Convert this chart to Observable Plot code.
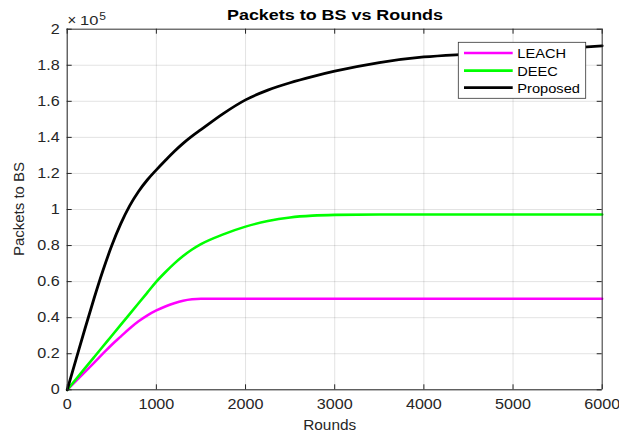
<!DOCTYPE html>
<html><head><meta charset="utf-8">
<script src="https://cdn.jsdelivr.net/npm/d3@7"></script>
<script src="https://cdn.jsdelivr.net/npm/@observablehq/plot@0.6"></script>
<style>body{margin:0;background:#fff} svg{display:block}</style>
</head><body><div id="chart"></div>
<script>
// ---- data (packets to BS, in units of 10^5) ----
const rounds   = [0,100,200,300,400,500,600,700,800,900,1000,1100,1200,1300,1400,1500,1750,2000,2250,2500,2750,3000,3500,4000,4500,5000,5500,6000];
const leach    = [0,0.05,0.10,0.15,0.20,0.25,0.295,0.34,0.38,0.413,0.44,0.462,0.48,0.494,0.502,0.505,0.505,0.505,0.505,0.505,0.505,0.505,0.505,0.505,0.505,0.505,0.505,0.505];
const deec     = [0,0.06,0.12,0.18,0.24,0.30,0.36,0.42,0.48,0.54,0.60,0.652,0.70,0.742,0.778,0.808,0.862,0.905,0.936,0.956,0.966,0.970,0.972,0.972,0.972,0.972,0.972,0.972];
const proposed = [0,0.17,0.34,0.505,0.66,0.80,0.92,1.02,1.10,1.165,1.22,1.272,1.322,1.367,1.407,1.443,1.532,1.608,1.662,1.703,1.737,1.767,1.815,1.846,1.862,1.876,1.891,1.908];
const seriesNames  = ["LEACH","DEEC","Proposed"];
const seriesColors = ["#ff00ff","#00ff00","#000000"];
const xTicks = [0,1000,2000,3000,4000,5000,6000];
const xTickLabels = ["0","1000","2000","3000","4000","5000","6000"];
const yTicks = [0,0.2,0.4,0.6,0.8,1,1.2,1.4,1.6,1.8,2];
const yTickLabels = ["0","0.2","0.4","0.6","0.8","1","1.2","1.4","1.6","1.8","2"];
const titleText = "Packets to BS vs Rounds";
const xLabel = "Rounds";
const yLabel = "Packets to BS";
const expTimes = "\u00d7", expBase = "10", expPow = "5";

const seriesArrays = [leach, deec, proposed];
const data = [];
seriesArrays.forEach((arr,k)=>rounds.forEach((r,i)=>data.push({round:r, value:arr[i], series:seriesNames[k]})));

const W=619, H=432, mL=66.7, mR=17.3, mT=28.7, mB=42.7;
const font = "'Liberation Sans', Arial, Helvetica, sans-serif";
const axisColor = "#262626";
const tickX = 5/(W-mL-mR)*6000, tickY = 5/(H-mT-mB)*2;
const widths = [2.5, 2.6, 2.8];

const svg = Plot.plot({
  width:W, height:H, marginLeft:mL, marginRight:mR, marginTop:mT, marginBottom:mB,
  style:{fontFamily:font, fontSize:"13.8px", color:axisColor, background:"#fff", overflow:"visible"},
  x:{domain:[0,6000]}, y:{domain:[0,2]},
  marks:[
    Plot.gridX(xTicks,{stroke:axisColor, strokeOpacity:0.13}),
    Plot.gridY(yTicks,{stroke:axisColor, strokeOpacity:0.13}),
    ...seriesNames.map((n,k)=>Plot.line(data.filter(d=>d.series===n),{x:"round", y:"value", stroke:seriesColors[k], strokeWidth:widths[k], curve:"monotone-x"})),
    Plot.ruleX([0],{stroke:axisColor, strokeWidth:1}),
    Plot.ruleY([0],{stroke:axisColor, strokeWidth:1}),
    Plot.ruleX([6000],{stroke:axisColor, strokeWidth:0.9}),
    Plot.ruleY([2],{stroke:axisColor, strokeWidth:0.9}),
    Plot.ruleX(xTicks,{x:d=>d, y1:0, y2:tickY, stroke:axisColor}),
    Plot.ruleX(xTicks,{x:d=>d, y1:2-tickY, y2:2, stroke:axisColor}),
    Plot.ruleY(yTicks,{y:d=>d, x1:0, x2:tickX, stroke:axisColor}),
    Plot.ruleY(yTicks,{y:d=>d, x1:6000-tickX, x2:6000, stroke:axisColor}),
    Plot.axisX(xTicks,{anchor:"bottom", tickSize:0, tickPadding:9, label:null, fill:axisColor, tickFormat:d=>xTickLabels[xTicks.indexOf(d)]}),
    Plot.axisY(yTicks,{anchor:"left", tickSize:0, tickPadding:7.5, label:null, fill:axisColor, tickFormat:d=>yTickLabels[yTicks.indexOf(d)]})
  ]
});
document.getElementById("chart").append(svg);

const s = d3.select(svg);
const g = s.append("g").attr("font-family", font);
const cx = mL + (W-mL-mR)/2;
const cy = mT + (H-mT-mB)/2;
g.append("text").attr("x", cx+0.8).attr("y", 20.3).attr("text-anchor","middle")
  .attr("font-weight","bold").attr("font-size",14).attr("fill","#000")
  .attr("data-len",216).text(titleText);
g.append("text").attr("x", cx-4.5).attr("y", 430).attr("text-anchor","middle")
  .attr("font-size",15).attr("fill",axisColor).attr("data-len",53).text(xLabel);
g.append("text").attr("transform",`translate(23.7,${cy}) rotate(-90)`).attr("text-anchor","middle")
  .attr("font-size",14.5).attr("fill",axisColor).attr("data-len",94).text(yLabel);
// exponent
g.append("text").attr("x",67.5).attr("y",24.8).attr("text-anchor","start").attr("font-size",15).attr("fill",axisColor).attr("data-ns",1).text(expTimes);
g.append("text").attr("x",80).attr("y",25).attr("text-anchor","start").attr("font-size",13.5).attr("fill",axisColor).attr("data-len",18.3).text(expBase);
g.append("text").attr("x",99.3).attr("y",19.5).attr("text-anchor","start").attr("font-size",10).attr("fill",axisColor).attr("data-len",6.7).text(expPow);

// legend
const lg = g.append("g");
lg.append("rect").attr("x",458.3).attr("y",42.3).attr("width",127.4).attr("height",56)
  .attr("fill","#fff").attr("stroke","#333").attr("stroke-width",0.8);
const rowY = [53, 70.6, 87.6];
seriesNames.forEach((n,k)=>{
  lg.append("line").attr("x1",464).attr("x2",512.7).attr("y1",rowY[k]).attr("y2",rowY[k])
    .attr("stroke",seriesColors[k]).attr("stroke-width",widths[k]);
  lg.append("text").attr("x",517.3).attr("y",rowY[k]+5.2).attr("text-anchor","start").attr("font-size",13.3).attr("fill","#000")
    .attr("data-k",1.1).text(n);
});

// horizontal stretch to match reference text proportions
svg.querySelectorAll("text").forEach(t=>{
  if (t.getAttribute("data-ns")) return;
  const w = t.getComputedTextLength();
  if (!w) return;
  const len = t.getAttribute("data-len");
  const k = t.getAttribute("data-k");
  const target = len ? +len : w*(k ? +k : 1.17);
  t.setAttribute("textLength", target);
  t.setAttribute("lengthAdjust","spacingAndGlyphs");
});
</script></body></html>
